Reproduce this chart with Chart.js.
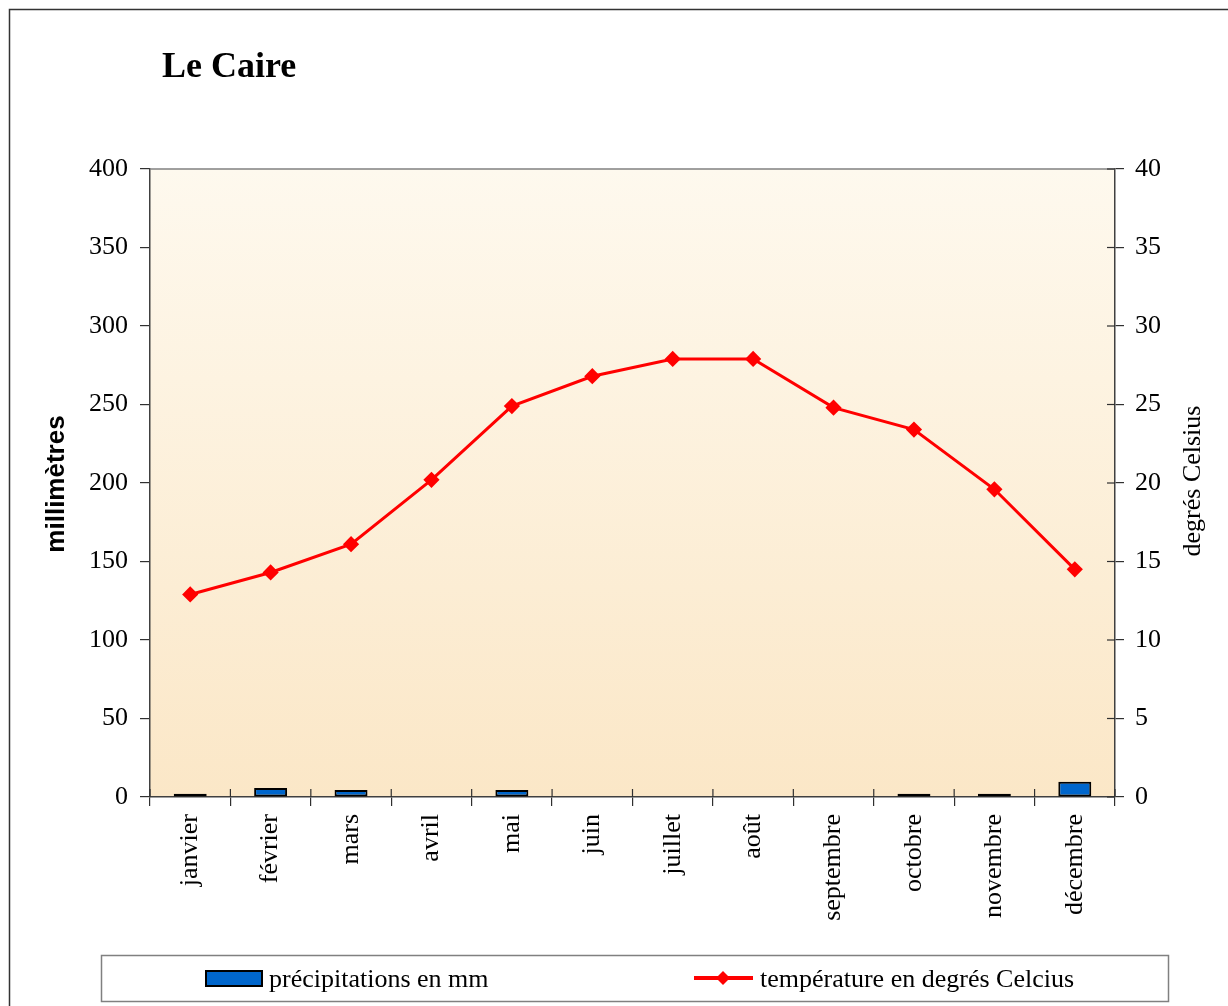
<!DOCTYPE html>
<html>
<head>
<meta charset="utf-8">
<title>Le Caire</title>
<script src="https://cdn.jsdelivr.net/npm/chart.js@4.4.1/dist/chart.umd.min.js"></script>
<style>
  html, body { margin: 0; padding: 0; background: #fff; }
  #wrap { width: 1228px; height: 1006px; position: relative; }
</style>
</head>
<body>
<div id="wrap"><canvas id="climateChart" width="1228" height="1006"></canvas></div>
<script>
const months = ['janvier', 'février', 'mars', 'avril', 'mai', 'juin', 'juillet', 'août', 'septembre', 'octobre', 'novembre', 'décembre'];
const precipitation = [2, 5.7, 4.5, 0, 4.5, 0, 0, 0, 0, 2, 2, 9.7];
const temperature = [12.9, 14.3, 16.1, 20.2, 24.9, 26.8, 27.9, 27.9, 24.8, 23.4, 19.6, 14.5];
const chartTitle = 'Le Caire';
const leftTitle = 'millimètres';
const rightTitle = 'degrés Celsius';
const legendLabels = ['précipitations en mm', 'température en degrés Celcius'];

const serif = '"Liberation Serif", "DejaVu Serif", serif';

// background, frame, custom texts, legend box
const decorPlugin = {
  id: 'decor',
  beforeDraw(chart) {
    const { ctx, chartArea: a } = chart;
    ctx.save();
    ctx.strokeStyle = '#333';
    ctx.lineWidth = 1.5;
    ctx.strokeRect(9.5, 9.5, 1400, 1400);
    const g = ctx.createLinearGradient(0, a.top, 0, a.bottom);
    g.addColorStop(0, '#fef9ee');
    g.addColorStop(1, '#fbe7c7');
    ctx.fillStyle = g;
    ctx.fillRect(a.left, a.top, a.right - a.left, a.bottom - a.top);
    ctx.restore();
  },
  afterDraw(chart) {
    const { ctx, chartArea: a } = chart;
    ctx.save();

    // top border of plot
    ctx.strokeStyle = '#808080';
    ctx.lineWidth = 1.5;
    ctx.beginPath();
    ctx.moveTo(a.left, a.top);
    ctx.lineTo(a.right, a.top);
    ctx.stroke();

    // inner halves of the cross ticks
    ctx.strokeStyle = '#303030';
    ctx.lineWidth = 1.2;
    const y1 = chart.scales.y1;
    y1.ticks.forEach(t => {
      const yy = y1.getPixelForValue(t.value);
      ctx.beginPath();
      ctx.moveTo(a.right - 8, yy);
      ctx.lineTo(a.right, yy);
      ctx.stroke();
    });
    for (let i = 0; i <= months.length; i++) {
      const xx = a.left + (a.right - a.left) * i / months.length;
      ctx.beginPath();
      ctx.moveTo(xx, a.bottom - 8);
      ctx.lineTo(xx, a.bottom);
      ctx.stroke();
    }

    // titles
    ctx.fillStyle = '#000';
    ctx.font = 'bold 36px ' + serif;
    ctx.textAlign = 'left';
    ctx.textBaseline = 'alphabetic';
    ctx.fillText(chartTitle, 162, 77);

    ctx.save();
    ctx.translate(57, 484);
    ctx.rotate(-Math.PI / 2);
    ctx.textAlign = 'center';
    ctx.textBaseline = 'middle';
    ctx.font = 'bold 26px "Liberation Sans", Arial, sans-serif';
    ctx.fillText(leftTitle, 0, 0);
    ctx.restore();

    ctx.save();
    ctx.translate(1193, 481);
    ctx.rotate(-Math.PI / 2);
    ctx.textAlign = 'center';
    ctx.textBaseline = 'middle';
    ctx.font = '26px ' + serif;
    ctx.fillText(rightTitle, 0, 0);
    ctx.restore();

    // legend
    ctx.strokeStyle = '#808080';
    ctx.lineWidth = 1.5;
    ctx.strokeRect(101.5, 955.5, 1067, 46);

    ctx.fillStyle = '#0066cc';
    ctx.fillRect(206, 971, 56, 15);
    ctx.strokeStyle = '#000';
    ctx.lineWidth = 2;
    ctx.strokeRect(206, 971, 56, 15);

    ctx.strokeStyle = '#ff0000';
    ctx.lineWidth = 4;
    ctx.beginPath();
    ctx.moveTo(694, 978);
    ctx.lineTo(753, 978);
    ctx.stroke();
    ctx.fillStyle = '#ff0000';
    ctx.beginPath();
    ctx.moveTo(723, 971);
    ctx.lineTo(730, 978);
    ctx.lineTo(723, 985);
    ctx.lineTo(716, 978);
    ctx.closePath();
    ctx.fill();

    ctx.fillStyle = '#000';
    ctx.font = '26px ' + serif;
    ctx.textAlign = 'left';
    ctx.textBaseline = 'alphabetic';
    ctx.fillText(legendLabels[0], 269, 987);
    ctx.fillText(legendLabels[1], 760, 987);

    ctx.restore();
  }
};

const ctx = document.getElementById('climateChart').getContext('2d');
new Chart(ctx, {
  data: {
    labels: months,
    datasets: [
      {
        type: 'line',
        label: legendLabels[1],
        data: temperature,
        yAxisID: 'y1',
        borderColor: '#ff0000',
        backgroundColor: '#ff0000',
        borderWidth: 3,
        pointStyle: 'rectRot',
        pointRadius: 6,
        pointHoverRadius: 6,
        tension: 0,
        order: 0
      },
      {
        type: 'bar',
        label: legendLabels[0],
        data: precipitation,
        yAxisID: 'y',
        backgroundColor: '#0066cc',
        borderColor: '#000',
        borderWidth: 2,
        borderSkipped: false,
        barPercentage: 0.41,
        categoryPercentage: 1,
        order: 1
      }
    ]
  },
  options: {
    responsive: false,
    animation: false,
    layout: { padding: { top: 169, left: 0, right: 0, bottom: 0 } },
    plugins: {
      legend: { display: false },
      title: { display: false },
      tooltip: { enabled: false }
    },
    scales: {
      x: {
        offset: true,
        afterFit: s => { s.height = 209; },
        grid: { offset: true, drawOnChartArea: false, tickLength: 9, color: '#303030', lineWidth: 1.2 },
        border: { color: '#404040', width: 1.5 },
        ticks: {
          autoSkip: false,
          minRotation: 90,
          maxRotation: 90,
          padding: 8,
          color: '#000',
          font: { family: serif, size: 26 }
        }
      },
      y: {
        position: 'left',
        min: 0,
        max: 400,
        afterFit: s => { s.width = 150; },
        grid: { drawOnChartArea: false, tickLength: 10, color: '#303030', lineWidth: 1.2 },
        border: { color: '#404040', width: 1.5 },
        ticks: {
          stepSize: 50,
          padding: 12,
          color: '#000',
          font: { family: serif, size: 26 }
        }
      },
      y1: {
        position: 'right',
        min: 0,
        max: 40,
        afterFit: s => { s.width = 113; },
        grid: { drawOnChartArea: false, tickLength: 9, color: '#303030', lineWidth: 1.2 },
        border: { color: '#404040', width: 1.5 },
        ticks: {
          stepSize: 5,
          padding: 11,
          color: '#000',
          font: { family: serif, size: 26 }
        }
      }
    }
  },
  plugins: [decorPlugin]
});
</script>
</body>
</html>
